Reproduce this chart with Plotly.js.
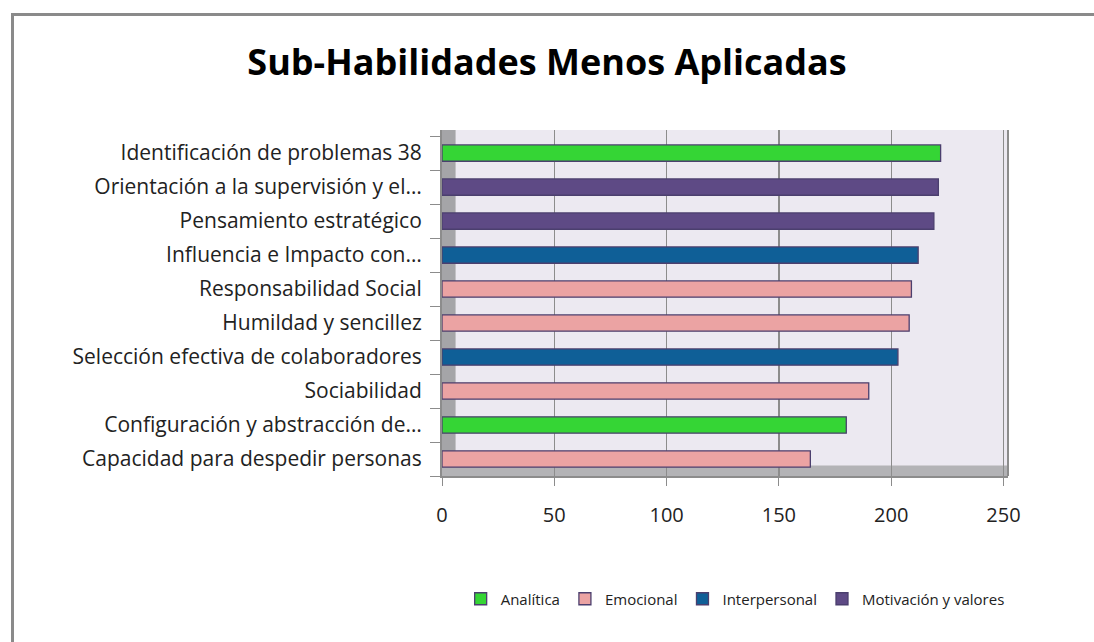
<!DOCTYPE html>
<html>
<head>
<meta charset="utf-8">
<script src="https://cdn.plot.ly/plotly-3.0.1.min.js"></script>
<style>
  html, body { margin: 0; padding: 0; background: #ffffff; }
  #frame { position: absolute; left: 11px; top: 13px; width: 1100px; height: 640px;
           border-left: 3px solid #8a8a8a; border-top: 3px solid #8a8a8a; pointer-events: none; }
  #chart { position: absolute; left: 0; top: 0; width: 1094px; height: 642px; }
</style>
</head>
<body>
<div id="chart"></div>
<div id="frame"></div>
<script>
// Categories, top to bottom as shown
const categories = [
  "Identificación de problemas 38",
  "Orientación a la supervisión y el…",
  "Pensamiento estratégico",
  "Influencia e Impacto con…",
  "Responsabilidad Social",
  "Humildad y sencillez",
  "Selección efectiva de colaboradores",
  "Sociabilidad",
  "Configuración y abstracción de…",
  "Capacidad para despedir personas"
];
const values = [222, 221, 219, 212, 209, 208, 203, 190, 180, 164];
const groups = [
  "Analítica", "Motivación y valores", "Motivación y valores", "Interpersonal",
  "Emocional", "Emocional", "Interpersonal", "Emocional", "Analítica", "Emocional"
];
const seriesNames = ["Analítica", "Emocional", "Interpersonal", "Motivación y valores"];
const seriesColors = ["#35D535", "#EBA3A3", "#0F5F97", "#5E4A85"];
const xTicks = [0, 50, 100, 150, 200, 250];

const traces = seriesNames.map((name, i) => {
  const ys = [], xs = [];
  categories.forEach((c, k) => { if (groups[k] === name) { ys.push(c); xs.push(values[k]); } });
  return {
    type: "bar", orientation: "h", name: name, x: xs, y: ys,
    width: 0.48,
    marker: { color: seriesColors[i], line: { color: "#4b3f6e", width: 1.3 } },
    hoverinfo: "x+y"
  };
});

const layout = {
  width: 1094, height: 642,
  paper_bgcolor: "#ffffff",
  plot_bgcolor: "#ECE9F1",
  margin: { l: 442, r: 86, t: 130, b: 166 },
  barmode: "overlay",
  title: {
    text: "<b>Sub-Habilidades Menos Aplicadas</b>",
    x: 0.5, xanchor: "center", y: 0.903, yanchor: "middle",
    font: { family: "Open Sans, sans-serif", size: 36, color: "#000000" }
  },
  xaxis: {
    range: [0, 252], tickvals: xTicks, ticktext: xTicks.map(String),
    showgrid: true, gridcolor: "#8c8c8c", gridwidth: 1.2,
    zeroline: false, showline: true, linecolor: "#8c8c8c", linewidth: 2,
    ticks: "outside", ticklen: 8, tickcolor: "#8c8c8c",
    ticklabelstandoff: 12,
    tickfont: { family: "Open Sans, sans-serif", size: 20, color: "#222222" },
    fixedrange: true
  },
  yaxis: {
    type: "category", categoryorder: "array", categoryarray: categories.slice().reverse(),
    range: [-0.5, 9.68],
    showgrid: false, zeroline: false, showline: true, linecolor: "#8c8c8c", linewidth: 2,
    ticks: "outside", tickson: "boundaries", ticklen: 10, tickcolor: "#8c8c8c",
    ticklabelstandoff: 14,
    tickfont: { family: "Open Sans, sans-serif", size: 21, color: "#222222" },
    fixedrange: true
  },
  shapes: [
    { type: "rect", xref: "x domain", yref: "y domain", x0: 0, x1: 0.024, y0: 0, y1: 1,
      fillcolor: "#a5a5a8", line: { width: 0 }, layer: "below" },
    { type: "rect", xref: "x domain", yref: "y domain", x0: 0, x1: 1, y0: 0, y1: 0.03,
      fillcolor: "#b3b3b6", line: { width: 0 }, layer: "below" },
    { type: "line", xref: "x domain", yref: "y domain", x0: 1, x1: 1, y0: 0, y1: 1,
      line: { color: "#8c8c8c", width: 2 } }
  ],
  showlegend: true,
  legend: {
    orientation: "h", xref: "container", x: 0.672, xanchor: "center",
    y: 0.067, yref: "container", yanchor: "middle",
    font: { family: "Open Sans, sans-serif", size: 15, color: "#222222" },
    itemwidth: 30, traceorder: "normal", bgcolor: "rgba(0,0,0,0)"
  }
};

Plotly.newPlot("chart", traces, layout, { displayModeBar: false, staticPlot: true });
</script>
</body>
</html>
